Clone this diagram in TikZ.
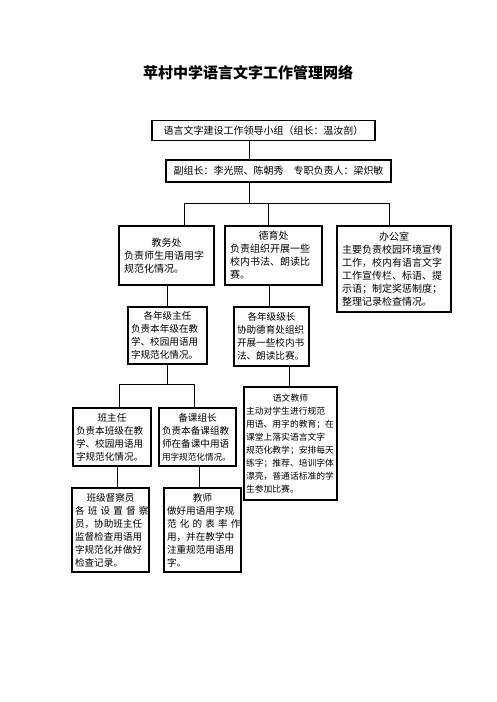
\documentclass[tikz,border=0pt]{standalone}
\usepackage{fontspec}
\newfontfamily\cjk{Noto Sans CJK SC}
\usetikzlibrary{positioning}
\newcommand\unithead[1]{\makebox[\linewidth]{#1}\\}
\newcommand\spreadline[1]{\makebox[\linewidth][s]{#1}\\}

\begin{document}
\begin{tikzpicture}[x=1pt, y=-1pt,
  unit/.style 2 args={draw, line width=1.1pt, align=left, text width=#1pt-6pt, minimum height=#2pt,
    inner xsep=3pt, inner ysep=1pt, font=\cjk\fontsize{9.6}{13}\selectfont},
  wide/.style={inner xsep=5pt, text width=#1pt-10pt, font=\cjk\fontsize{10}{13}\selectfont},
  bar/.style={draw, line width=1.1pt, inner sep=0pt, font=\cjk\fontsize{10}{12}\selectfont},
  link/.style={line width=1pt}]
  \useasboundingbox (0,0) rectangle (496,702);

  % title
  \node[font=\cjk\bfseries\fontsize{15}{18}\selectfont] (title) at (248,73) {苹村中学语言文字工作管理网络};

  % leading group
  \node[bar, minimum width=223pt, minimum height=20pt] (lead) at (263.5,130.5) {语言文字建设工作领导小组（组长：温汝剖）};
  \node[bar, minimum width=225pt, minimum height=22pt] (vice) at (278.5,171) {副组长：李光照、陈朝秀\hspace{1em}专职负责人：梁炽敏};

  % offices
  \node[unit={95}{59}, wide=95] (jw) at (166.5,255.5) {\unithead{教务处}负责师生用语用字\\规范化情况。\\[13pt]};
  \node[unit={97}{59}, wide=97] (dy) at (273.5,255.5) {\unithead{德育处}负责组织开展一些\\校内书法、朗读比\\赛。};
  \node[unit={114}{86}, wide=114] (bg) at (394,269) {\unithead{办公室}主要负责校园环境宣传\\工作，校内有语言文字\\工作宣传栏、标语、提\\示语；制定奖惩制度；\\整理记录检查情况。};

  % grade leaders
  \node[unit={79}{57}] (nz) at (167.5,335.5) {\unithead{各年级主任}负责本年级在教\\学、校园用语用\\字规范化情况。};
  \node[unit={75}{59}] (nj) at (271.5,336.5) {\unithead{各年级级长}协助德育处组织\\开展一些校内书\\法、朗读比赛。};

  % teachers
  \node[unit={78}{58}] (bzr) at (112,437) {\unithead{班主任}负责本班级在教\\学、校园用语用\\字规范化情况。};
  \node[unit={77}{58}] (bkz) at (197.5,437) {\unithead{备课组长}负责本备课组教\\师在备课中用语\\{\fontsize{8.6}{13}\selectfont 用字规范化情况。}};
  \node[unit={93}{113}, inner xsep=2pt, text width=89pt, font=\cjk\fontsize{8.8}{13}\selectfont] (ywjs) at (290.5,443.5)
    {\unithead{语文教师}主动对学生进行规范\\用语、用字的教育；在\\课堂上落实语言文字\\规范化教学；安排每天\\练字；推荐、培训字体\\漂亮，普通话标准的学\\生参加比赛。};
  \node[unit={77}{84}] (bjdc) at (110.5,530) {\unithead{班级督察员}\spreadline{各 班 设 置 督 察}员，协助班主任\\监督检查用语用\\字规范化并做好\\检查记录。};
  \node[unit={77}{84}] (js) at (202.5,530) {\unithead{教师}做好用语用字规\\\spreadline{范 化 的 表 率 作}用，并在教学中\\注重规范用语用\\字。};

  % connectors
  \coordinate (t0) at (249,203);
  \coordinate (b1) at (184,203);
  \coordinate (b2) at (268,203);
  \coordinate (b3) at (389,203);
  \draw[link] (lead.south -| t0) -- (vice.north -| t0);
  \draw[link] (vice.south -| t0) -- (t0);
  \draw[link] (jw.north -| b1) -- (b1) -- (b3) -- (bg.north -| b3);
  \draw[link] (b2) -- (dy.north -| b2);

  \coordinate (k2) at (269,296);
  \draw[link] (jw.south -| nz.north) -- (nz.north);
  \draw[link] (dy.south -| k2) -- (nj.north -| k2);

  \coordinate (c0) at (167,384);
  \coordinate (c1) at (119,384);
  \coordinate (c2) at (194,384);
  \coordinate (k3) at (289,376);
  \draw[link] (nz.south -| c0) -- (c0);
  \draw[link] (bzr.north -| c1) -- (c1) -- (c2) -- (bkz.north -| c2);
  \draw[link] (nj.south -| k3) -- (ywjs.north -| k3);

  \coordinate (k4) at (117,477);
  \coordinate (k5) at (199,477);
  \draw[link] (bzr.south -| k4) -- (bjdc.north -| k4);
  \draw[link] (bkz.south -| k5) -- (js.north -| k5);
\end{tikzpicture}
\end{document}
